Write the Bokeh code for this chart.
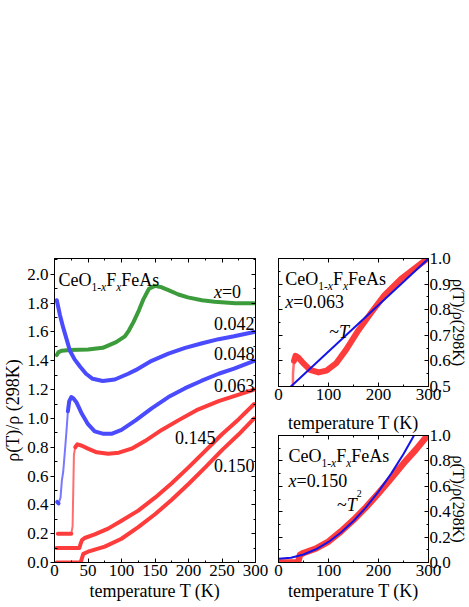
import numpy as np
from bokeh.plotting import figure
from bokeh.models import (Range1d, FixedTicker, PrintfTickFormatter, LinearAxis,
                          Label, CustomJSTickFormatter)
from bokeh.layouts import row, column
from bokeh.embed import file_html
from bokeh.resources import INLINE

FONT = "Liberation Serif"
GREEN = "#3c9c3c"
BLUE = "#4a4aff"
RED = "#ff3c3c"
FITBLUE = "#1414e6"

# ---------------- data: rho(T)/rho(298K) ----------------
T_X0 = [3.4, 6, 11, 23, 50, 72, 92, 105, 111, 118, 126, 133, 141, 150, 160, 170, 185, 199, 220, 239, 270, 298]
R_X0 = [0.64, 0.66, 0.67, 0.675, 0.678, 0.69, 0.73, 0.77, 0.81, 0.87, 0.95, 1.03, 1.10, 1.12, 1.11, 1.09,
        1.06, 1.04, 1.02, 1.01, 1.00, 1.00]

T_X042 = [3.4, 8, 13, 18, 23, 30, 38, 47, 57, 72, 90, 110, 121, 145, 170, 195, 219, 245, 268, 298]
R_X042 = [1.22, 1.12, 1.03, 0.95, 0.87, 0.81, 0.76, 0.71, 0.675, 0.66, 0.67, 0.71, 0.735, 0.80, 0.85,
          0.89, 0.92, 0.95, 0.97, 1.00]

T_X048 = [4, 6, 9, 11, 13, 16, 18, 20, 22, 25, 28, 33, 40, 50, 60, 72, 85, 100, 121, 145, 170, 195,
          219, 245, 268, 298]
R_X048 = [0.02, 0.01, 0.05, 0.17, 0.23, 0.40, 0.52, 0.65, 0.72, 0.748, 0.74, 0.71, 0.64, 0.56, 0.51,
          0.494, 0.493, 0.52, 0.586, 0.67, 0.748, 0.81, 0.86, 0.91, 0.945, 1.00]

T_X063 = [5, 10, 20, 25, 27, 28, 29, 31, 34, 40, 50, 63, 80, 96, 115, 135, 160, 186, 212, 245, 275, 298]
R_X063 = [0.0, 0.0, 0.0, 0.0, 0.05, 0.30, 0.55, 0.60, 0.62, 0.612, 0.59, 0.565, 0.555, 0.562, 0.59,
          0.643, 0.72, 0.79, 0.857, 0.92, 0.965, 1.0]

T_X145 = [3, 10, 20, 30, 37, 39, 41, 45, 60, 80, 100, 125, 150, 175, 200, 225, 250, 275, 298]
R_X145 = [0.0, 0.0, 0.0, 0.0, 0.0, 0.03, 0.055, 0.07, 0.095, 0.135, 0.19, 0.26, 0.35, 0.45, 0.56,
          0.675, 0.79, 0.895, 1.0]

T_X150 = [3, 10, 20, 30, 39, 41, 43, 50, 75, 100, 125, 150, 175, 200, 225, 250, 275, 298]
R_X150 = [0.0, 0.0, 0.0, 0.0, 0.0, 0.03, 0.06, 0.075, 0.11, 0.165, 0.245, 0.335, 0.435, 0.545, 0.66,
          0.78, 0.89, 1.0]

# vertical offsets used in the main panel
OFFSETS = [0.8, 0.6, 0.4, 0.2, 0.1, 0.0]
SERIES_LABELS = ["x=0", "0.042", "0.048", "0.063", "0.145", "0.150"]
# index spans of the steep superconducting transitions (drawn as sparse, thin traces)
STEEP = [None, None, (1, 7), (3, 7), None, None]

# fits shown in the insets
LIN_T = [0, 300]
LIN_Y = [0.455, 1.0]
SQ_T = [0, 25, 50, 75, 100, 125, 150, 175, 200, 225, 250, 275]
SQ_Y = [0.03, 0.038, 0.063, 0.104, 0.162, 0.236, 0.327, 0.434, 0.558, 0.698, 0.855, 1.028]

# tick definitions
MAIN_XT = [0, 50, 100, 150, 200, 250, 300]
MAIN_XM = [25, 75, 125, 175, 225, 275]
MAIN_YT = [0.0, 0.2, 0.4, 0.6, 0.8, 1.0, 1.2, 1.4, 1.6, 1.8, 2.0]
MAIN_YM = [0.1, 0.3, 0.5, 0.7, 0.9, 1.1, 1.3, 1.5, 1.7, 1.9, 2.1]
INS_XT = [0, 100, 200, 300]
INS_XM = [50, 150, 250]
TR_YT = [0.5, 0.6, 0.7, 0.8, 0.9, 1.0]
TR_YM = [0.55, 0.65, 0.75, 0.85, 0.95]
BR_YT = [0.0, 0.2, 0.4, 0.6, 0.8, 1.0]
BR_YM = [0.1, 0.3, 0.5, 0.7, 0.9]

X_TITLE = "temperature T (K)"
Y_TITLE_MAIN = "ρ(T)/ρ (298K)"
Y_TITLE_INSET = "ρ(T)/ρ(298K)"

# ---------------- helpers ----------------
W_ROMAN = {'C': .667, 'e': .444, 'O': .722, 'F': .556, 'A': .722, 's': .389, '1': .5, '-': .333,
           '0': .5, '2': .5, '3': .5, '4': .5, '5': .5, '6': .5, '8': .5, '9': .5, '.': .25,
           '=': .564, ' ': .25, '(': .333, ')': .333, 'K': .722, '/': .278, 'ρ': .5, '~': .541}
W_ITAL = {'x': .444, 'T': .556}


def adv(text, size, italic):
    tab = W_ITAL if italic else W_ROMAN
    return sum(tab.get(c, 0.5) for c in text) * size


def rich(p, x, y, pieces):
    pos = 0.0
    for text, size, italic, rise in pieces:
        p.add_layout(Label(x=x, y=y, text=text, x_offset=pos, y_offset=rise,
                           text_font=FONT, text_font_size=f"{size}px",
                           text_font_style="italic" if italic else "normal",
                           text_color="black", text_baseline="alphabetic", text_align="left"))
        pos += adv(text, size, italic)


def add_axis(p, side, ticks, minor, fmt, labels, tin, tout, mint,
             title=None, title_size=18, title_standoff=0, label_standoff=2):
    ax = LinearAxis(ticker=FixedTicker(ticks=ticks, minor_ticks=minor))
    ax.major_label_text_font = FONT
    ax.major_label_text_color = "black"
    if labels:
        ax.formatter = PrintfTickFormatter(format=fmt)
        ax.major_label_standoff = label_standoff
        ax.major_label_text_font_size = "17px"
    else:
        ax.formatter = CustomJSTickFormatter(code="return ''")
        ax.major_label_standoff = 0
        ax.major_label_text_font_size = "0px"
    ax.major_tick_in = tin
    ax.major_tick_out = tout
    ax.minor_tick_in = mint
    ax.minor_tick_out = 0
    for a in ("axis_line_color", "major_tick_line_color", "minor_tick_line_color"):
        setattr(ax, a, "black")
    if title:
        ax.axis_label = title
        ax.axis_label_text_font = FONT
        ax.axis_label_text_font_size = f"{title_size}px"
        ax.axis_label_text_font_style = "normal"
        ax.axis_label_text_color = "black"
        ax.axis_label_standoff = title_standoff
    p.add_layout(ax, side)
    return ax


def make_fig(w, h, xr, yr, bl, brr, bt, bb):
    p = figure(width=w, height=h, x_range=Range1d(*xr), y_range=Range1d(*yr),
               output_backend="svg", toolbar_location=None,
               x_axis_location=None, y_axis_location=None,
               min_border_left=bl, min_border_right=brr, min_border_top=bt, min_border_bottom=bb)
    p.grid.visible = False
    p.outline_line_color = "black"
    p.outline_line_width = 1
    p.background_fill_color = "white"
    p.border_fill_color = "white"
    return p


# ---------------- main panel ----------------
pm = make_fig(270, 607, (0, 300), (0, 2.11), 51, 15, 258, 45)
add_axis(pm, "below", MAIN_XT, MAIN_XM, "%d", True, 4, 0, 2, title=X_TITLE, title_standoff=2)
add_axis(pm, "left", MAIN_YT, MAIN_YM, "%.1f", True, 0, 4, 3, title=Y_TITLE_MAIN, title_standoff=1)
add_axis(pm, "above", MAIN_XT, MAIN_XM, "%d", False, 4, 0, 2)
add_axis(pm, "right", MAIN_YT, MAIN_YM, "%.1f", False, 4, 0, 2)

main_series = [(T_X0, R_X0, GREEN), (T_X042, R_X042, BLUE), (T_X048, R_X048, BLUE),
               (T_X063, R_X063, RED), (T_X145, R_X145, RED), (T_X150, R_X150, RED)]
for (t, r, c), off, steep in zip(main_series, OFFSETS, STEEP):
    y = np.array(r) + off
    if steep is None:
        pm.line(t, y, line_width=4, color=c, line_join="round", line_cap="round")
    else:
        a, b = steep
        pm.line(t[:a + 1], y[:a + 1], line_width=4, color=c, line_join="round", line_cap="round")
        pm.line(t[a:b + 1], y[a:b + 1], line_width=2, color=c, line_alpha=0.75,
                line_join="round", line_cap="round")
        pm.line(t[b:], y[b:], line_width=4, color=c, line_join="round", line_cap="round")

# series labels
rich(pm, 238, 1.877, [("x", 18, True, 0), ("=0", 18, False, 0)])
rich(pm, 238, 1.658, [(SERIES_LABELS[1], 18, False, 0)])
rich(pm, 238, 1.449, [(SERIES_LABELS[2], 18, False, 0)])
rich(pm, 238, 1.229, [(SERIES_LABELS[3], 18, False, 0)])
rich(pm, 180, 0.870, [(SERIES_LABELS[4], 18, False, 0)])
rich(pm, 238, 0.674, [(SERIES_LABELS[5], 18, False, 0)])

FORMULA = [("CeO", 18, False, 0), ("1-", 11.5, False, -7), ("x", 11.5, True, -7),
           ("F", 18, False, 0), ("x", 11.5, True, -7), ("FeAs", 18, False, 0)]
rich(pm, 5.9, 1.958, FORMULA)

# ---------------- top-right inset (x = 0.063) ----------------
pt = make_fig(199, 409, (0, 300), (0.5, 1.0), 8, 37, 258, 23)
add_axis(pt, "below", INS_XT, INS_XM, "%d", True, 4, 0, 2)
add_axis(pt, "right", TR_YT, TR_YM, "%.1f", True, 4, 0, 2, title=Y_TITLE_INSET, title_size=16,
         title_standoff=-4, label_standoff=1)
add_axis(pt, "left", TR_YT, TR_YM, "%.1f", False, 4, 0, 2)
add_axis(pt, "above", INS_XT, INS_XM, "%d", False, 4, 0, 2)
a, b = STEEP[3]
pt.line(T_X063[a:b + 1], R_X063[a:b + 1], line_width=2.5, color=RED, line_alpha=0.75)
pt.line(T_X063[b:], R_X063[b:], line_width=6, color=RED, line_join="round", line_cap="round")
pt.line(LIN_T, LIN_Y, line_width=2, color=FITBLUE)
rich(pt, 13.6, 0.9207, FORMULA)
rich(pt, 13.6, 0.829, [("x", 18, True, 0), ("=0.063", 18, False, 0)])
rich(pt, 101.3, 0.711, [("~", 18, False, 0), ("T", 18, True, 0)])

# ---------------- bottom-right inset (x = 0.150) ----------------
pb = make_fig(199, 198, (0, 300), (0.0, 1.0), 8, 37, 23, 45)
add_axis(pb, "below", INS_XT, INS_XM, "%d", True, 4, 0, 2, title=X_TITLE, title_standoff=2)
add_axis(pb, "right", BR_YT, BR_YM, "%.1f", True, 4, 0, 2, title=Y_TITLE_INSET, title_size=16,
         title_standoff=-4, label_standoff=1)
add_axis(pb, "left", BR_YT, BR_YM, "%.1f", False, 4, 0, 2)
# the upper inset's x title sits in this panel's top margin
add_axis(pb, "above", INS_XT, INS_XM, "%d", False, 4, 0, 2, title=X_TITLE, title_standoff=3)
pb.line(T_X150, R_X150, line_width=6.5, color=RED, line_join="round", line_cap="round")
pb.line(SQ_T, SQ_Y, line_width=2, color=FITBLUE)
rich(pb, 20.1, 0.841, FORMULA)
rich(pb, 20.1, 0.644, [("x", 18, True, 0), ("=0.150", 18, False, 0)])
rich(pb, 116.9, 0.454, [("~", 18, False, 0), ("T", 18, True, 0), ("2", 10, False, 11)])

layout = row(pm, column(pt, pb, spacing=0), spacing=0)
open("out.html", "w").write(file_html(layout, INLINE))
